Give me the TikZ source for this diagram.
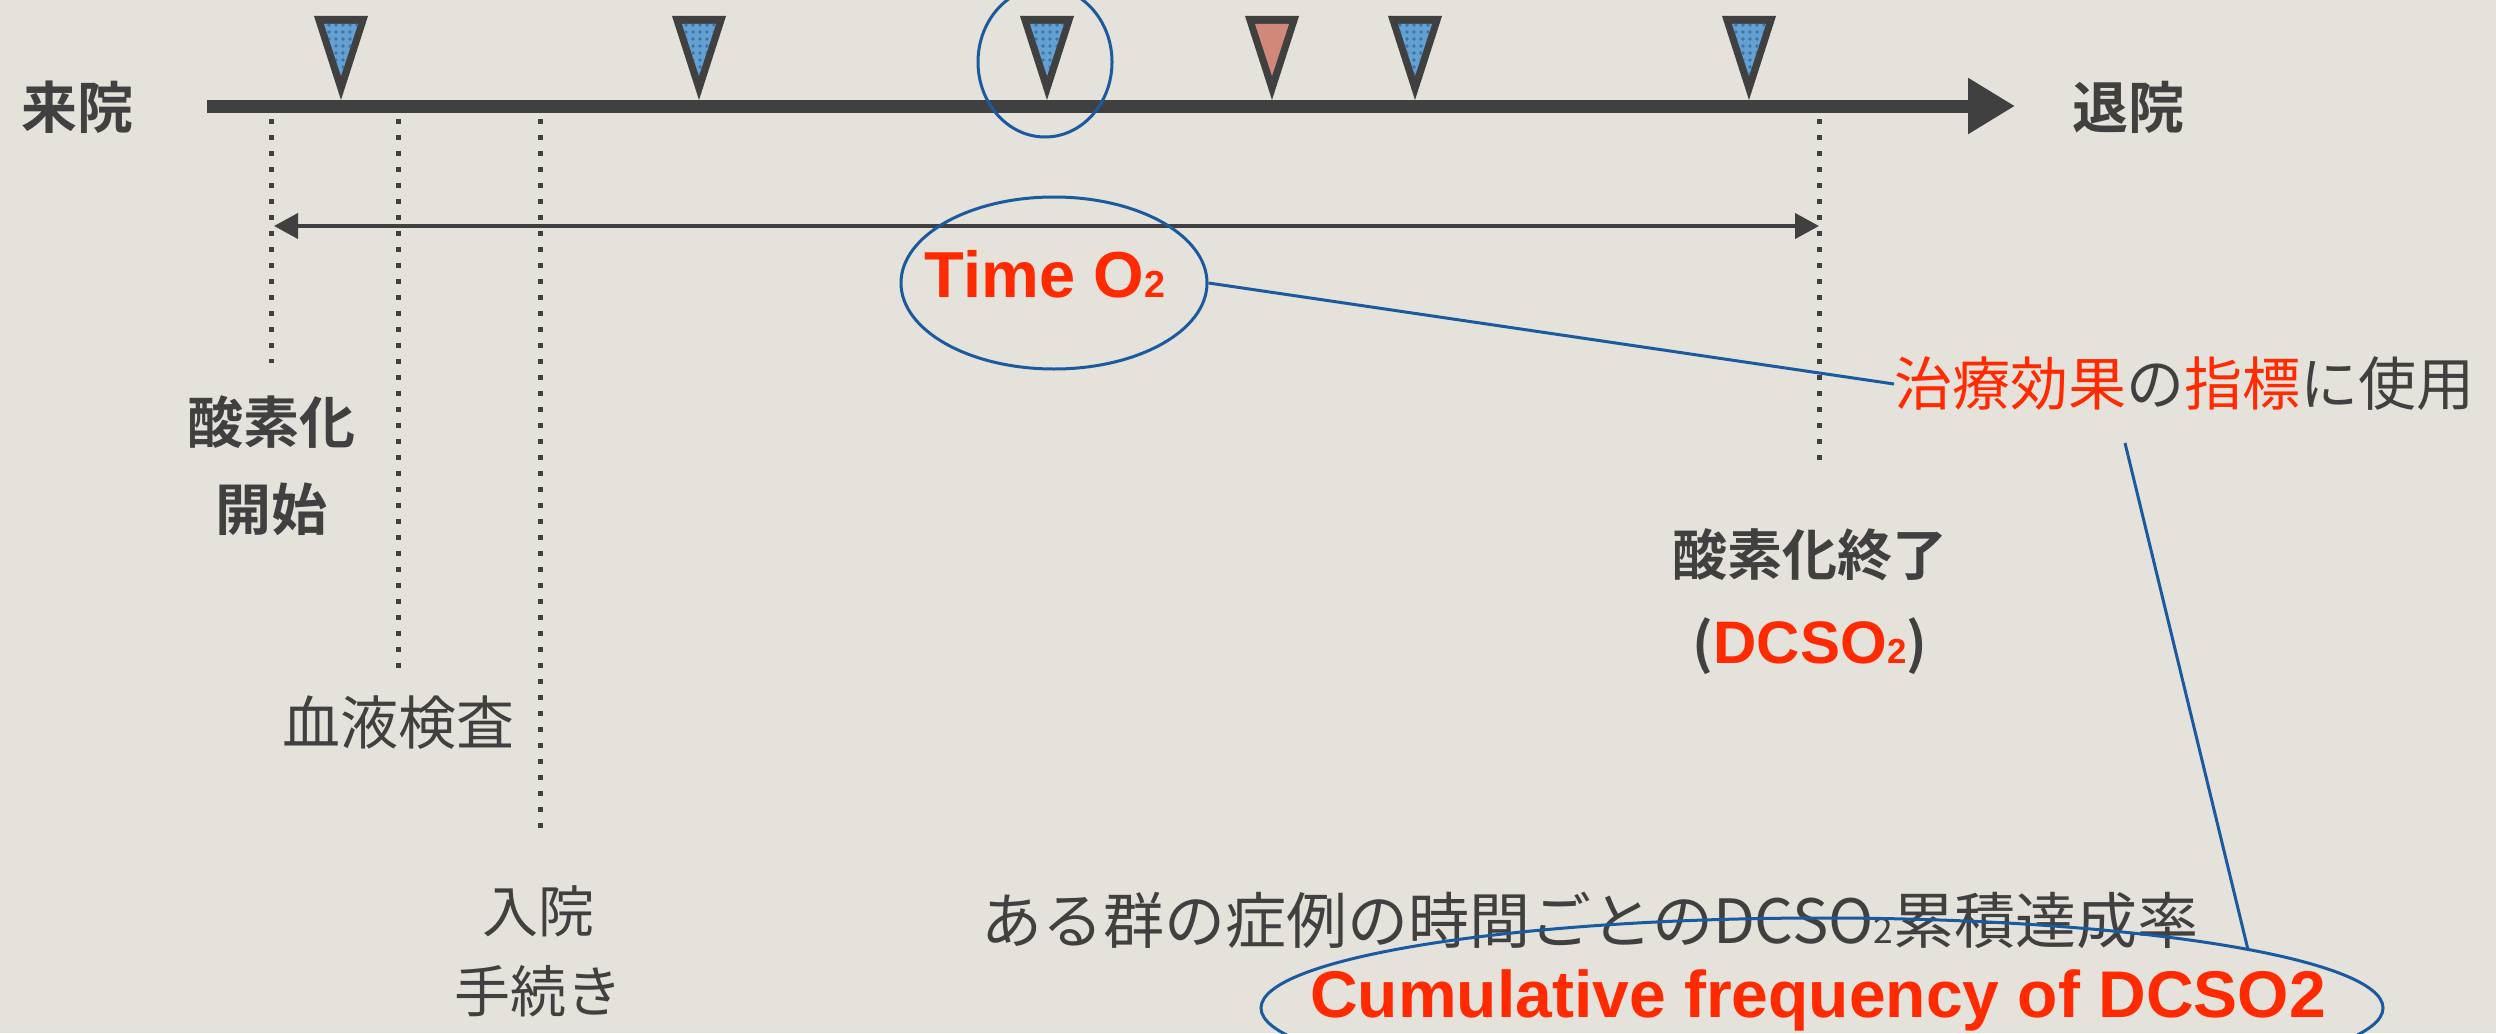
\documentclass[tikz,border=0pt]{standalone}
\usepackage{fontspec}
\setmainfont{Liberation Sans}
\newfontfamily\jp{Noto Sans CJK JP}[BoldFont={Noto Sans CJK JP Bold}]
\usetikzlibrary{arrows.meta,shapes.geometric,patterns.meta,calc}
\definecolor{bg}{HTML}{E5E1DB}
\definecolor{ink}{HTML}{404040}
\definecolor{hot}{HTML}{FF2A00}
\definecolor{ring}{HTML}{1A5A9E}
\definecolor{markblue}{HTML}{64A0D2}
\definecolor{dotblue}{HTML}{3C74A6}
\definecolor{markred}{HTML}{D08878}
\newcommand\subtwo{\scalebox{0.58}{2}}
\tikzset{
  bluemark/.pic={
    \fill[ink] (-27,-84) -- (27,-84) -- (0,0) -- cycle;
    \fill[markblue] (-17,-76) -- (17,-76) -- (0,-24) -- cycle;
    \fill[pattern={Dots[radius=1.8pt,distance=7pt]}, pattern color=dotblue] (-17,-76) -- (17,-76) -- (0,-24) -- cycle;
  },
  redmark/.pic={
    \fill[ink] (-27,-84) -- (27,-84) -- (0,0) -- cycle;
    \fill[markred] (-17,-76) -- (17,-76) -- (0,-24) -- cycle;
  },
  dotline/.style={ink, line width=5pt, dash pattern=on 5pt off 11pt},
  ringline/.style={ring, line width=3pt},
  jpbold/.style={text=ink, inner sep=0pt, align=center, font={\jp\bfseries\fontsize{#1}{#1}\selectfont}},
  jpreg/.style={text=ink, inner sep=0pt, align=center, font={\jp\fontsize{#1}{#1}\selectfont}},
}
\begin{document}
\begin{tikzpicture}[x=1pt,y=-1pt]
\fill[bg] (0,0) rectangle (2496,1033);
\useasboundingbox (0,0) rectangle (2496,1033);

% timeline
\coordinate (tlstart) at (207,106);
\coordinate (tlend) at (2015,106);
\draw[ink, line width=13pt, -{Triangle[length=47pt,width=53pt]}] (tlstart) -- (tlend);
\node[jpbold=56] (raiin) at (77,107) {来院};
\node[jpbold=56] (taiin) at (2128,107) {退院};

% markers
\foreach \x/\k in {341/bluemark, 699/bluemark, 1047/bluemark, 1272/redmark, 1415/bluemark, 1749/bluemark}
  \pic at (\x,100) {\k};
\node[draw=ring, line width=3pt, ellipse, minimum width=134pt, minimum height=150pt, inner sep=0pt] (c1) at (1045,62) {};

% dotted verticals
\coordinate (d1t) at (271,119); \coordinate (d1b) at (271,363);
\coordinate (d2t) at (398,119); \coordinate (d2b) at (398,669);
\coordinate (d3t) at (540,119); \coordinate (d3b) at (540,828);
\coordinate (d4t) at (1819,119); \coordinate (d4b) at (1819,462);
\draw[dotline] (d1t) -- (d1b);
\draw[dotline] (d2t) -- (d2b);
\draw[dotline] (d3t) -- (d3b);
\draw[dotline] (d4t) -- (d4b);

% span arrow
\coordinate (sa) at (274,226); \coordinate (sb) at (1819,226);
\draw[ink, line width=4pt, {Triangle[length=24pt,width=25pt]}-{Triangle[length=24pt,width=25pt]}] (sa) -- (sb);

% labels
\node[jpbold=56, font={\jp\bfseries\fontsize{56}{87}\selectfont}] (start) at (271,466) {酸素化\\開始};
\node[jpreg=58] (blood) at (398,723) {血液検査};
\node[jpreg=56, font={\jp\fontsize{56}{80}\selectfont}] (adm) at (538,951) {入院\\手続き};
\node[jpbold=55, font={\jp\bfseries\fontsize{55}{88}\selectfont}] (endo) at (1810,602) {酸素化終了\\({\color{hot}\fontspec{Liberation Sans}\bfseries\fontsize{60}{60}\selectfont DCSO\subtwo})};

% Time O2
\node[text=hot, inner sep=0pt, font=\bfseries\fontsize{65}{65}\selectfont] (timeo) at (1045,274) {Time O\subtwo};
\node[draw=ring, line width=3pt, ellipse, minimum width=306pt, minimum height=172pt, inner sep=0pt] (e1) at (1054,283) {};

% index label
\node[jpreg=58, anchor=west] (index) at (1894,384) {{\color{hot}治療効果}の{\color{hot}指標}に使用};
\draw[ringline] (e1.east) -- (index.west);

% bottom
\node[jpreg=61] (ratio) at (1590,920) {ある群の症例の時間ごとのDCSO\subtwo 累積達成率};
\node[text=hot, inner sep=0pt, font=\bfseries\fontsize{66}{66}\selectfont] (cumul) at (1818,1000) {Cumulative frequency of DCSO2};
\node[draw=ring, line width=3pt, ellipse, minimum width=1122pt, minimum height=180pt, inner sep=0pt] (e2) at (1822,1008) {};
\coordinate (k2) at (2125,443);
\draw[ringline] (k2) -- (e2.8);
\end{tikzpicture}
\end{document}
